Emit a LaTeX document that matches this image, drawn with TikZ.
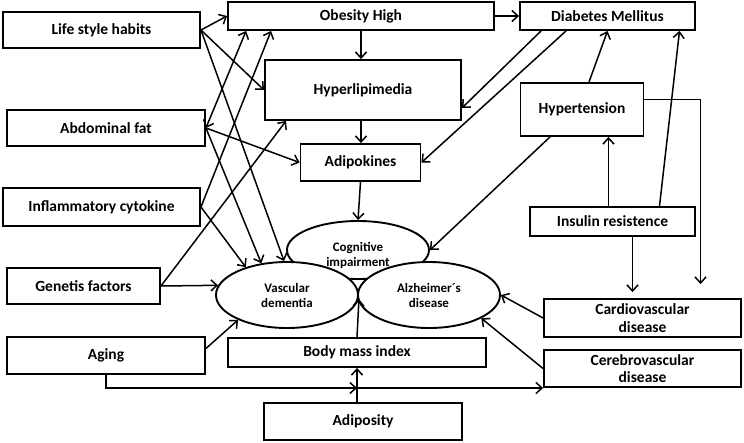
\documentclass[tikz,border=0pt]{standalone}
\usepackage{fontspec}
\setmainfont{Carlito}
\usetikzlibrary{shapes.geometric, arrows.meta, calc}

\begin{document}
\begin{tikzpicture}[x=1pt, y=-1pt,
        box/.style={rectangle, draw, line width=1.9pt, fill=white, align=center, inner sep=1pt, font=\fontsize{15.5}{17.5}\selectfont\bfseries},
        ell/.style={ellipse, draw, line width=1.9pt, fill=white, minimum width=142pt, minimum height=66pt, inner sep=0pt},
        etext/.style={align=center, font=\fontsize{13}{15}\selectfont\bfseries},
        arrow/.style={-{Straight Barb[length=6pt, width=11pt]}, line width=1.5pt}
    ]
        \useasboundingbox (0,0) rectangle (744,442);

        % Left column
        \node[box, minimum width=197pt, minimum height=36pt] (life) at (101.5,30) {Life style habits};
        \node[box, minimum width=198pt, minimum height=36pt] (abdo) at (106,128) {Abdominal fat};
        \node[box, minimum width=197pt, minimum height=38pt] (infl) at (101.5,207) {Inflammatory cytokine};
        \node[box, minimum width=153pt, minimum height=36pt] (genet) at (83.5,286) {Genetis factors};
        \node[box, minimum width=198pt, minimum height=37pt] (aging) at (106,355.5) {Aging};

        % Middle column
        \node[box, minimum width=266pt, minimum height=28pt] (obes) at (361,16) {Obesity High};
        \node[box, minimum width=196pt, minimum height=60pt] (hyperl) at (363,90) {Hyperlipimedia};
        \node[box, minimum width=120pt, minimum height=37pt] (adipok) at (360.5,162.5) {Adipokines};
        \node[box, minimum width=258pt, minimum height=29pt] (bmi) at (357,352.5) {Body mass index};
        \node[box, minimum width=198pt, minimum height=37pt] (adipos) at (363,421.5) {Adiposity};

        % Right column
        \node[box, minimum width=175pt, minimum height=28pt] (diab) at (607.5,16) {Diabetes Mellitus};
        \node[box, minimum width=123pt, minimum height=53pt] (htn) at (582,109.5) {Hypertension};
        \node[box, minimum width=165pt, minimum height=29pt] (insul) at (612.5,221.5) {Insulin resistence};
        \node[box, minimum width=197pt, minimum height=38pt] (cardio) at (642.5,318) {Cardiovascular\\disease};
        \node[box, minimum width=197pt, minimum height=37pt] (cerebro) at (642.5,368.5) {Cerebrovascular\\disease};

        % Outcomes
        \node[ell, minimum height=58pt] (cog) at (358,250) {};
        \node[ell, etext] (vasc) at (287,295) {Vascular\\dementia};
        \node[ell, etext] (alz) at (429,295) {Alzheimer´s\\disease};
        \node[etext] (cogtext) at (358,255) {Cognitive\\impairment};

        % Risk factors
        \draw[arrow] (life.east) -- (obes.west);
        \draw[arrow] (life.east) -- (hyperl.west);
        \draw[arrow] (life.east) -- (vasc.95);
        \draw[arrow] (abdo.east) -- (adipok.west);
        \draw[arrow] (abdo.east) -- (vasc.129);
        \draw[{Straight Barb[length=6pt, width=11pt]}-{Straight Barb[length=6pt, width=11pt]}, line width=1.5pt] (abdo.east) -- ([xshift=19pt]obes.south west);
        \draw[arrow] (infl.east) -- ([xshift=44pt]obes.south west);
        \draw[arrow] (infl.east) -- (vasc.146);
        \draw[arrow] (genet.east) -- ([xshift=22pt]hyperl.south west);
        \draw[arrow] (genet.east) -- (vasc.172);
        \draw[arrow] ([yshift=7pt]aging.east) -- (vasc.207);

        % Aging and adiposity
        \coordinate (agejoin) at (357,388);
        \draw[arrow] (aging.south) |- (agejoin);
        \draw[arrow] (agejoin) -- (agejoin -| cerebro.west);
        \draw[arrow] (bmi.south |- adipos.north) -- (bmi.south);
        \draw[arrow] (bmi.north) -- ([yshift=-4pt]vasc.east);

        % Central chain
        \draw[arrow] (obes.south) -- (obes.south |- hyperl.north);
        \draw[arrow] (hyperl.south -| obes.south) -- (obes.south |- adipok.north);
        \draw[arrow] (adipok.south) -- (cog.north);
        \draw[arrow] (obes.east) -- (diab.west);

        % Metabolic side
        \draw[arrow] ([xshift=22pt]diab.south west) -- ([yshift=-18pt]hyperl.east);
        \draw[arrow] ([xshift=47pt]diab.south west) -- (adipok.east);
        \draw[arrow] ([xshift=7pt]htn.north) -- (diab.south);
        \draw[arrow] ([xshift=47pt]insul.north) -- ([xshift=72pt]diab.south);
        \draw[arrow] ([xshift=-4pt]insul.north) -- ([xshift=-4pt]insul.north |- htn.south);
        \draw[arrow] ([xshift=-32pt]htn.south) -- (cog.east);
        \draw[arrow] ([yshift=10pt]htn.east) -| ([xshift=58pt, yshift=14pt]cardio.north);
        \draw[arrow] ([xshift=20pt]insul.south) -- ([xshift=-10pt, yshift=6pt]cardio.north);
        \draw[arrow] (cardio.west) -- (alz.east);
        \draw[arrow] (cerebro.west) -- (alz.-24);
    \end{tikzpicture}
\end{document}
